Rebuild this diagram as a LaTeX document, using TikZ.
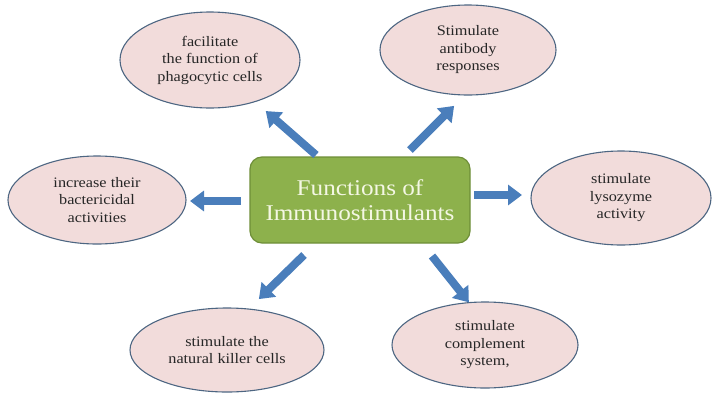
\documentclass[tikz,border=0pt]{standalone}
\usepackage{fontspec}
\setmainfont{Liberation Serif}
\newfontfamily\ovalfont[FakeStretch=1.12]{Liberation Serif}
\usetikzlibrary{shapes.geometric,arrows.meta}
\definecolor{ellfill}{HTML}{F2DCDB}
\definecolor{elldraw}{HTML}{4D6682}
\definecolor{boxfill}{HTML}{8DB14C}
\definecolor{boxdraw}{HTML}{6E8E38}
\definecolor{boxtext}{HTML}{F4F7E4}
\definecolor{arr}{HTML}{4A7EBB}
\tikzset{
  oval/.style={ellipse, draw=elldraw, line width=1.1pt, fill=ellfill, inner sep=0pt,
    align=center, font=\ovalfont\fontsize{14.5}{17.5}\selectfont, text=black!85},
  fat/.style={draw=arr, line width=8pt, -{Triangle[width=20pt,length=14pt]}, shorten >=-3pt}
}
\begin{document}
\begin{tikzpicture}[x=1pt,y=-1pt]
\useasboundingbox (0,0) rectangle (713,394);
\node[draw=boxdraw, line width=1.2pt, fill=boxfill, rounded corners=12pt, minimum width=220pt, minimum height=86pt,
  align=center, text=boxtext, font=\ovalfont\fontsize{22.5}{25.5}\selectfont] (c) at (360,200) {Functions of\\Immunostimulants};
\node[oval, minimum width=180pt, minimum height=96pt] (tl) at (210,60) {facilitate\\the function of\\phagocytic cells};
\node[oval, minimum width=176pt, minimum height=90pt] (tr) at (468,50) {Stimulate\\antibody\\responses};
\node[oval, minimum width=178pt, minimum height=88pt] (l) at (97,200) {increase their\\bactericidal\\activities};
\node[oval, minimum width=180pt, minimum height=94pt] (r) at (621,198) {stimulate\\lysozyme\\activity};
\node[oval, minimum width=194pt, minimum height=84pt] (bl) at (227,350) {stimulate the\\natural killer cells};
\node[oval, minimum width=186pt, minimum height=86pt] (br) at (485,345) {stimulate\\complement\\system,};
\coordinate (a1s) at (316,155); \coordinate (a1e) at (268,113);
\coordinate (a2s) at (410,150); \coordinate (a2e) at (452,108);
\coordinate (a3s) at (241,201); \coordinate (a3e) at (193,201);
\coordinate (a4s) at (474,195); \coordinate (a4e) at (519,195);
\coordinate (a5s) at (304,255); \coordinate (a5e) at (261,297);
\coordinate (a6s) at (432,256); \coordinate (a6e) at (467,300);
\draw[fat] (a1s) -- (a1e);
\draw[fat] (a2s) -- (a2e);
\draw[fat] (a3s) -- (a3e);
\draw[fat] (a4s) -- (a4e);
\draw[fat] (a5s) -- (a5e);
\draw[fat] (a6s) -- (a6e);
\end{tikzpicture}
\end{document}
